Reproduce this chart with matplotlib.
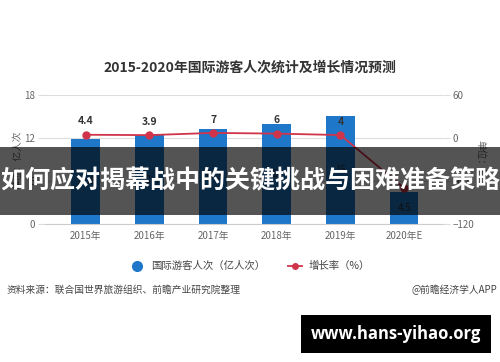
import matplotlib.pyplot as plt
from matplotlib.lines import Line2D
from matplotlib.patches import Rectangle

plt.rcParams['font.family'] = ['Noto Sans CJK SC', 'DejaVu Sans']

years = ["2015年", "2016年", "2017年", "2018年", "2019年", "2020年E"]
arrivals = [11.9, 12.4, 13.3, 14.0, 15.0, 4.5]  # 亿人次
growth = [4.4, 3.9, 7, 6, 4, -70]  # %
growth_labels = ["4.4", "3.9", "7", "6", "4", ""]

BLUE = "#1f77c9"
RED = "#d0344a"
GRID = "#dddddd"
TICK = "#666666"

fig = plt.figure(figsize=(5, 3.62), dpi=100)
ax = fig.add_axes([0.09, 0.381, 0.796, 0.357])
x = list(range(len(years)))

ax.bar(x, arrivals, width=0.45, color=BLUE, zorder=2)
for xi, v in zip(x, arrivals):
    ax.text(xi, v / 2, f"{v:g}", ha="center", va="center", fontsize=7, color="#333333", zorder=4)

ax.set_xlim(-0.64, 5.61)
ax.set_ylim(0, 18)
ax.set_yticks([0, 6, 12, 18])
ax.set_xticks(x)
ax.set_xticklabels(years)
ax.grid(axis="y", color=GRID, linewidth=0.8, zorder=0)
for s in ax.spines.values():
    s.set_visible(False)
ax.spines["bottom"].set_visible(True)
ax.spines["bottom"].set_color("#cccccc")
ax.tick_params(axis="y", length=5, color=GRID, labelsize=7, labelcolor=TICK, pad=2)
ax.tick_params(axis="x", length=0, labelsize=7, labelcolor=TICK, pad=5)
ax.set_ylabel("单位：亿人次", fontsize=7, color=TICK, labelpad=1)

ax2 = ax.twinx()
ax2.set_ylim(-120, 60)
ax2.set_yticks([-120, -60, 0, 60])
ax2.plot(x, growth, color=RED, linewidth=1.3, marker="o", markersize=5, zorder=3)
for xi, g, lab in zip(x, growth, growth_labels):
    ax2.annotate(lab, (xi, g), xytext=(0, 6), textcoords="offset points",
                 ha="center", va="bottom", fontsize=7.5, fontweight="bold", color="#333333")
for s in ax2.spines.values():
    s.set_visible(False)
ax2.tick_params(axis="y", length=5, color=GRID, labelsize=7, labelcolor=TICK, pad=2)
ax2.set_ylabel("单位：%", fontsize=7, color=TICK, rotation=270, labelpad=8)

fig.text(0.5, 0.812, "2015-2020年国际游客人次统计及增长情况预测", ha="center", va="center",
         fontsize=10, fontweight="bold", color="#333333")

handles = [
    Line2D([], [], linestyle="none", marker="o", markersize=7, color=BLUE),
    Line2D([], [], color=RED, marker="o", markersize=4, linewidth=1.3),
]
fig.legend(handles, ["国际游客人次（亿人次）", "增长率（%）"], loc="center",
           bbox_to_anchor=(0.5, 0.265), ncol=2, frameon=False, fontsize=7.5,
           handlelength=1.4, columnspacing=2.2, handletextpad=0.6, labelcolor="#444444")

fig.text(0.014, 0.199, "资料来源：联合国世界旅游组织、前瞻产业研究院整理", ha="left", va="center",
         fontsize=7, color="#444444")
fig.text(0.994, 0.199, "@前瞻经济学人APP", ha="right", va="center", fontsize=7, color="#444444")

# overlay banner
fig.patches.append(Rectangle((0, 0.406), 1, 0.188, transform=fig.transFigure,
                             facecolor="black", alpha=0.67, zorder=10))
fig.text(0.5, 0.5, "如何应对揭幕战中的关键挑战与困难准备策略", ha="center", va="center",
         fontsize=18, fontweight="bold", color="white", zorder=11)

fig.patches.append(Rectangle((0.602, 0.025), 0.38, 0.105, transform=fig.transFigure,
                             facecolor="black", zorder=10))
fig.text(0.792, 0.077, "www.hans-yihao.org", ha="center", va="center", family="Open Sans",
         fontsize=12, fontweight="bold", color="white", zorder=11)

fig.savefig("out.png", dpi=100)
